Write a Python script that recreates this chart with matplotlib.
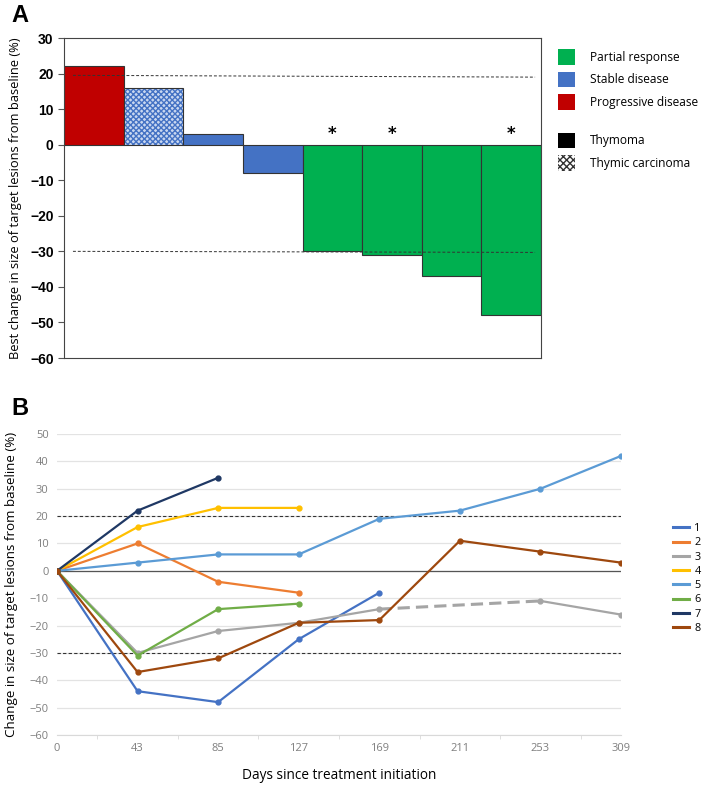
import numpy as np
import matplotlib
matplotlib.use("Agg")
import matplotlib.pyplot as plt
from matplotlib.patches import Patch
from matplotlib.lines import Line2D

# panel A data
best_change = [22, 16, 3, -8, -30, -31, -37, -48]
response = ['PD', 'SD', 'SD', 'SD', 'PR', 'PR', 'PR', 'PR']
carcinoma = [False, True, False, False, False, False, False, False]
starred = [False, False, False, False, True, True, False, True]

# panel B data
days = ['0', '43', '85', '127', '169', '211', '253', '309']
pt1 = [0, -44, -48, -25, -8]
pt2 = [0, 10, -4, -8]
pt3 = [0, -30, -22, -19, -14, None, -11, -16]
pt4 = [0, 16, 23, 23]
pt5 = [0, 3, 6, 6, 19, 22, 30, 42]
pt6 = [0, -31, -14, -12]
pt7 = [0, 22, 34]
pt8 = [0, -37, -32, -19, -18, 11, 7, 3]

resp_colors = {'PR': '#00B050', 'SD': '#4472C4', 'PD': '#C00000'}
line_colors = ['#4472C4', '#ED7D31', '#A5A5A5', '#FFC000', '#5B9BD5', '#70AD47', '#1F3864', '#9E480E']

fig = plt.figure(figsize=(7.09, 7.87), dpi=100)

# ---------------- panel A ----------------
axA = fig.add_axes([0.0903, 0.5451, 0.6728, 0.4066])
for i, v in enumerate(best_change):
    if carcinoma[i]:
        axA.bar(i, v, width=1.0, color='#c9d7f0', edgecolor='#4472C4', hatch='xxxxxx', linewidth=0)
        axA.bar(i, v, width=1.0, color='none', edgecolor='#333333', linewidth=0.8)
    else:
        axA.bar(i, v, width=1.0, color=resp_colors[response[i]], edgecolor='#333333', linewidth=0.8)
    if starred[i]:
        axA.text(i, 3.0, '*', ha='center', va='center', fontsize=12, fontweight='bold')
axA.plot([-0.35, 7.4], [19.5, 19.0], ls=(0, (3, 2)), color='#333333', lw=0.7)
axA.plot([-0.35, 7.4], [-30, -30.3], ls=(0, (3, 2)), color='#333333', lw=0.7)
axA.set_xlim(-0.5, 7.5)
axA.set_ylim(-60, 30)
axA.set_yticks(np.arange(-60, 31, 10))
axA.set_xticks([])
for lab in axA.get_yticklabels():
    lab.set_fontweight('bold')
    lab.set_fontfamily('Liberation Sans')
axA.tick_params(axis='y', labelsize=10, length=4, width=0.8, color='#555555')
for s in axA.spines.values():
    s.set_color('#444444')
    s.set_linewidth(0.8)
axA.set_ylabel('Best change in size of target lesions from baseline (%)', fontsize=9.3, family='Open Sans', labelpad=6)

legA1 = [
    Patch(facecolor=resp_colors['PR'], label='Partial response'),
    Patch(facecolor=resp_colors['SD'], label='Stable disease'),
    Patch(facecolor=resp_colors['PD'], label='Progressive disease'),
]
legA2 = [
    Patch(facecolor='black', label='Thymoma'),
    Patch(facecolor='white', edgecolor='#333333', hatch='xxxxx', linewidth=0, label='Thymic carcinoma'),
]
kw = dict(loc='upper left', frameon=False, prop={'family': 'Open Sans', 'size': 8.6},
          handlelength=1.4, handleheight=1.6, labelspacing=0.6, handletextpad=1.25)
fig.legend(handles=legA1, bbox_to_anchor=(0.772, 0.951), **kw)
fig.legend(handles=legA2, bbox_to_anchor=(0.772, 0.845), **kw)

fig.text(0.016, 0.995, 'A', fontsize=17, fontweight='bold', va='top', family='Liberation Sans')

# ---------------- panel B ----------------
axB = fig.add_axes([0.0804, 0.0661, 0.7955, 0.3824])
series = [pt1, pt2, pt3, pt4, pt5, pt6, pt7, pt8]
for k, ys in enumerate(series):
    c = line_colors[k]
    if k == 2:
        xs = [i for i, v in enumerate(ys) if v is not None]
        vs = [v for v in ys if v is not None]
        axB.plot(xs[:5], vs[:5], color=c, lw=1.6, marker='o', ms=3.5, zorder=3)
        axB.plot(xs[4:6], vs[4:6], color=c, lw=2.2, ls=(0, (4, 2)), zorder=3)
        axB.plot(xs[5:], vs[5:], color=c, lw=1.6, marker='o', ms=3.5, zorder=3)
    else:
        axB.plot(np.arange(len(ys)), ys, color=c, lw=1.6, marker='o', ms=3.5, zorder=3)
axB.axhline(0, color='#555555', lw=0.9, zorder=2)
axB.axhline(20, color='#333333', lw=0.8, ls=(0, (3, 2)), zorder=2)
axB.axhline(-30, color='#333333', lw=0.8, ls=(0, (3, 2)), zorder=2)
axB.set_xlim(0, len(days) - 1)
axB.set_ylim(-60, 50)
axB.set_yticks(np.arange(-60, 51, 10))
axB.set_xticks(np.arange(len(days)))
axB.set_xticklabels(days)
axB.set_xticks(np.arange(len(days) - 1) + 0.5, minor=True)
axB.grid(axis='y', color='#e3e3e3', lw=0.9)
axB.set_axisbelow(True)
for s in ['top', 'right', 'left']:
    axB.spines[s].set_visible(False)
axB.spines['bottom'].set_color('#d9d9d9')
axB.tick_params(axis='both', which='major', length=0, labelsize=8, labelcolor='#7f7f7f', pad=6)
axB.tick_params(axis='x', which='minor', length=3, color='#d9d9d9')
for lab in axB.get_xticklabels() + axB.get_yticklabels():
    lab.set_fontfamily('Open Sans')
axB.set_xlabel('Days since treatment initiation', fontsize=9.8, family='Open Sans', labelpad=10)
axB.set_ylabel('Change in size of target lesions from baseline (%)', fontsize=9.6, family='Open Sans', labelpad=8)

legB = [Line2D([0], [0], color=line_colors[k], lw=2.2, label=str(k + 1)) for k in range(8)]
fig.legend(handles=legB, loc='upper left', bbox_to_anchor=(0.938, 0.345), frameon=False,
           prop={'family': 'Open Sans', 'size': 7.8}, handlelength=1.5, labelspacing=0.3,
           handletextpad=0.5, borderpad=0.2)

fig.text(0.016, 0.495, 'B', fontsize=17, fontweight='bold', va='top', family='Liberation Sans')

fig.savefig('out.png', dpi=100)
